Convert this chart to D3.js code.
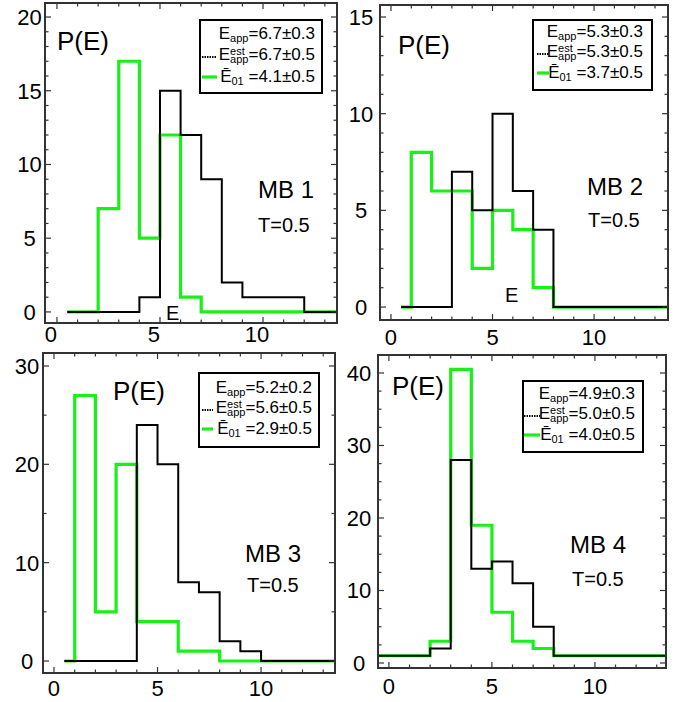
<!DOCTYPE html>
<html><head><meta charset="utf-8">
<script src="https://cdn.jsdelivr.net/npm/d3@7"></script>
<style>body{margin:0;background:#fff}</style>
</head><body><svg id="c" width="681" height="702" xmlns="http://www.w3.org/2000/svg"></svg>
<script>
// ---------------- data ----------------
const binEdges = [0.5,1,2,3,4,5,6,7,8,9,10,11,12,13,14];
const binEdgesMB4 = [-1,0,1,2,3,4,5,6,7,8,9,10,11,12,13,14];
const mb1Black = [0,0,0,0,1,15,12,9,2,1,1,1,0,0];
const mb1Green = [0,0,7,17,5,12,1,0,0,0,0,0,0,0];
const mb2Black = [0,0,0,7,5,10,6,4,0,0,0,0,0,0];
const mb2Green = [0,8,6,6,2,5,4,1,0,0,0,0,0,0];
const mb3Black = [0,0,0,0,24,20,8,7,2,1,0,0,0,0];
const mb3Green = [0,27,5,20,4,4,1,1,0,0,0,0,0,0];
const mb4Black = [1,1,1,2,28,13,14,11,5,1,1,1,1,1,1];
const mb4Green = [1,1,1,3,40.5,19,7,3,2,1,1,1,1,1,1];
const mbNames = ["MB 1","MB 2","MB 3","MB 4"];
const eApp = ["=6.7±0.3","=5.3±0.3","=5.2±0.2","=4.9±0.3"];
const eEst = ["=6.7±0.5","=5.3±0.5","=5.6±0.5","=5.0±0.5"];
const e01 = [" =4.1±0.5"," =3.7±0.5"," =2.9±0.5"," =4.0±0.5"];
const tempLabel = "T=0.5";
const yTitle = "P(E)";
const xTitle = "E";
const xTickValues = [0,5,10];
const yTickValues = [[0,5,10,15,20],[0,5,10,15],[0,10,20,30],[0,10,20,30,40]];
const yMinorStep = [1,1,5,2.5];
const xMinorStep = 1;

const series = [
  {edges: binEdges, black: mb1Black, green: mb1Green},
  {edges: binEdges, black: mb2Black, green: mb2Green},
  {edges: binEdges, black: mb3Black, green: mb3Green},
  {edges: binEdgesMB4, black: mb4Black, green: mb4Green}
];

// ---------------- layout ----------------
const layouts = [
 {frame:[45,3,337,323], xDom:[-0.58,13.59], yDom:[-0.75,20.95], yLabelX:29.5, xLabelY:342, xLabelShift:-6, pe:[57,50], box:[200,20,322,93], legRight:315, legBase:[39,60,82], sample:[202,217], mb:[258,198], t:[258,232], eLab:[166,320]},
 {frame:[380,5,668,320], xDom:[-0.54,13.64], yDom:[-0.67,15.62], yLabelX:361, xLabelY:345, xLabelShift:0, pe:[398,54], box:[533,20,652,90], legRight:643, legBase:[37,57,78], sample:[537,549], mb:[587,195], t:[588,227], eLab:[505,302]},
 {frame:[43,353,335,673], xDom:[-0.53,13.57], yDom:[-1.22,31.32], yLabelX:27, xLabelY:696, xLabelShift:0, pe:[113,400], box:[199,373,319,447], legRight:312, legBase:[393,413,434], sample:[202,213], mb:[245,562], t:[247,592], eLab:null},
 {frame:[378,355,666,668], xDom:[-0.53,13.45], yDom:[-0.69,42.48], yLabelX:359, xLabelY:694, xLabelShift:0, pe:[392,395], box:[523,381,643,452], legRight:635, legBase:[399,419,440], sample:[524,540], mb:[570,553], t:[572,586], eLab:null}
];

const FONT = "Liberation Sans, Arial, Helvetica, sans-serif";
const GREEN = "#18f018";
const SUB = 11;
const svg = d3.select("#c");
const defs = svg.append("defs");

function addParts(t, parts) {
  parts.forEach(p => {
    const s = t.append("tspan").text(p.s).attr("font-size",p.size||17);
    if (p.dx) s.attr("dx",p.dx);
    if (p.dy) s.attr("dy",p.dy);
  });
}
function measureParts(parts) {
  const t = svg.append("text").attr("x",0).attr("y",0).attr("font-family",FONT).attr("font-size",17);
  addParts(t, parts);
  const bb = t.node().getBBox();
  t.remove();
  return bb.x + bb.width;
}
function measure(s, size) {
  const t = svg.append("text").attr("font-family",FONT).attr("font-size",size).text(s);
  const w = t.node().getComputedTextLength();
  t.remove();
  return w;
}

layouts.forEach((L, i) => {
  const g = svg.append("g");
  const [x0,y0,x1,y1] = L.frame;
  const x = d3.scaleLinear().domain(L.xDom).range([x0,x1]);
  const y = d3.scaleLinear().domain(L.yDom).range([y1,y0]);
  const cid = "clip"+i;
  defs.append("clipPath").attr("id",cid).append("rect")
    .attr("x",x0).attr("y",y0).attr("width",x1-x0).attr("height",y1-y0);

  // histograms
  const S = series[i];
  const line = d3.line().x(d=>x(d[0])).y(d=>y(d[1])).curve(d3.curveStepAfter);
  const pts = v => S.edges.map((e,k)=>[e, v[Math.min(k, v.length-1)]]);
  const hg = g.append("g").attr("clip-path",`url(#${cid})`);
  hg.append("path").attr("d", line(pts(S.green))).attr("fill","none")
    .attr("stroke",GREEN).attr("stroke-width",3.2).attr("stroke-linejoin","miter");
  hg.append("path").attr("d", line(pts(S.black))).attr("fill","none")
    .attr("stroke","#000").attr("stroke-width",2).attr("stroke-linejoin","miter");

  // ticks (inward, all four sides)
  const tk = g.append("g").attr("stroke","#333").attr("stroke-width",1.2);
  const xMinor = d3.range(Math.ceil(L.xDom[0]), L.xDom[1], xMinorStep);
  xMinor.forEach(v => {
    const major = v % 5 === 0;
    const len = major ? 6 : 3.5;
    tk.append("line").attr("x1",x(v)).attr("x2",x(v)).attr("y1",y1).attr("y2",y1-len);
    tk.append("line").attr("x1",x(v)).attr("x2",x(v)).attr("y1",y0).attr("y2",y0+len);
  });
  const yMinor = d3.range(0, L.yDom[1], yMinorStep[i]);
  const yMaj = yTickValues[i];
  const majStep = yMaj[1]-yMaj[0];
  yMinor.forEach(v => {
    const major = Math.abs(v/majStep - Math.round(v/majStep)) < 1e-6;
    const len = major ? 6 : 3.5;
    tk.append("line").attr("x1",x0).attr("x2",x0+len).attr("y1",y(v)).attr("y2",y(v));
    tk.append("line").attr("x1",x1).attr("x2",x1-len).attr("y1",y(v)).attr("y2",y(v));
  });

  // frame
  g.append("rect").attr("x",x0).attr("y",y0).attr("width",x1-x0).attr("height",y1-y0)
    .attr("fill","none").attr("stroke","#333").attr("stroke-width",2);

  // tick labels
  xTickValues.forEach(v => {
    g.append("text").attr("x",x(v)+L.xLabelShift).attr("y",L.xLabelY)
      .attr("text-anchor","middle").attr("font-family",FONT).attr("font-size",22).text(v);
  });
  yMaj.forEach(v => {
    g.append("text").attr("x",L.yLabelX).attr("y",y(v)).attr("dy","0.36em")
      .attr("text-anchor","middle").attr("font-family",FONT).attr("font-size",22).text(v);
  });

  // titles
  g.append("text").attr("x",L.pe[0]).attr("y",L.pe[1]).attr("font-family",FONT)
    .attr("font-size",26).text(yTitle);
  g.append("text").attr("x",L.mb[0]).attr("y",L.mb[1]).attr("font-family",FONT)
    .attr("font-size",24).text(mbNames[i]);
  g.append("text").attr("x",L.t[0]).attr("y",L.t[1]).attr("font-family",FONT)
    .attr("font-size",20).text(tempLabel);
  if (L.eLab) g.append("text").attr("x",L.eLab[0]).attr("y",L.eLab[1]).attr("font-family",FONT)
    .attr("font-size",20).text(xTitle);

  // legend
  const [bx0,by0,bx1,by1] = L.box;
  g.append("rect").attr("x",bx0).attr("y",by0).attr("width",bx1-bx0).attr("height",by1-by0)
    .attr("fill","#fff").attr("stroke","#000").attr("stroke-width",2);
  const R = L.legRight, B = L.legBase;
  const lg = g.append("g").attr("font-family",FONT);
  const estW = measure("est",SUB);
  const lines = [
    [{s:"E"},{s:"app",size:SUB,dy:3},{s:eApp[i],dy:-3}],
    [{s:"E"},{s:"est",size:SUB,dy:-5},{s:"app",size:SUB,dx:-estW,dy:8},{s:eEst[i],dy:-3}],
    [{s:"Ē"},{s:"01",size:SUB,dy:3},{s:e01[i],dy:-3}]
  ];
  const legText = lg.append("text").attr("font-family",FONT).attr("font-size",17);
  lines.forEach((parts, k) => {
    const w = measureParts(parts);
    parts.forEach((p, j) => {
      const s = legText.append("tspan").text(p.s).attr("font-size",p.size||17);
      if (j === 0) { s.attr("x", R - w).attr("y", B[k]); }
      else {
        if (p.dx) s.attr("dx",p.dx);
        if (p.dy) s.attr("dy",p.dy);
      }
    });
  });

  // samples
  lg.append("line").attr("x1",L.sample[0]).attr("x2",L.sample[1]).attr("y1",B[1]-3).attr("y2",B[1]-3)
    .attr("stroke","#000").attr("stroke-width",2).attr("stroke-dasharray","1.5,1");
  lg.append("line").attr("x1",L.sample[0]).attr("x2",L.sample[1]).attr("y1",B[2]-5).attr("y2",B[2]-5)
    .attr("stroke",GREEN).attr("stroke-width",3.2);
});
</script>
</body></html>
